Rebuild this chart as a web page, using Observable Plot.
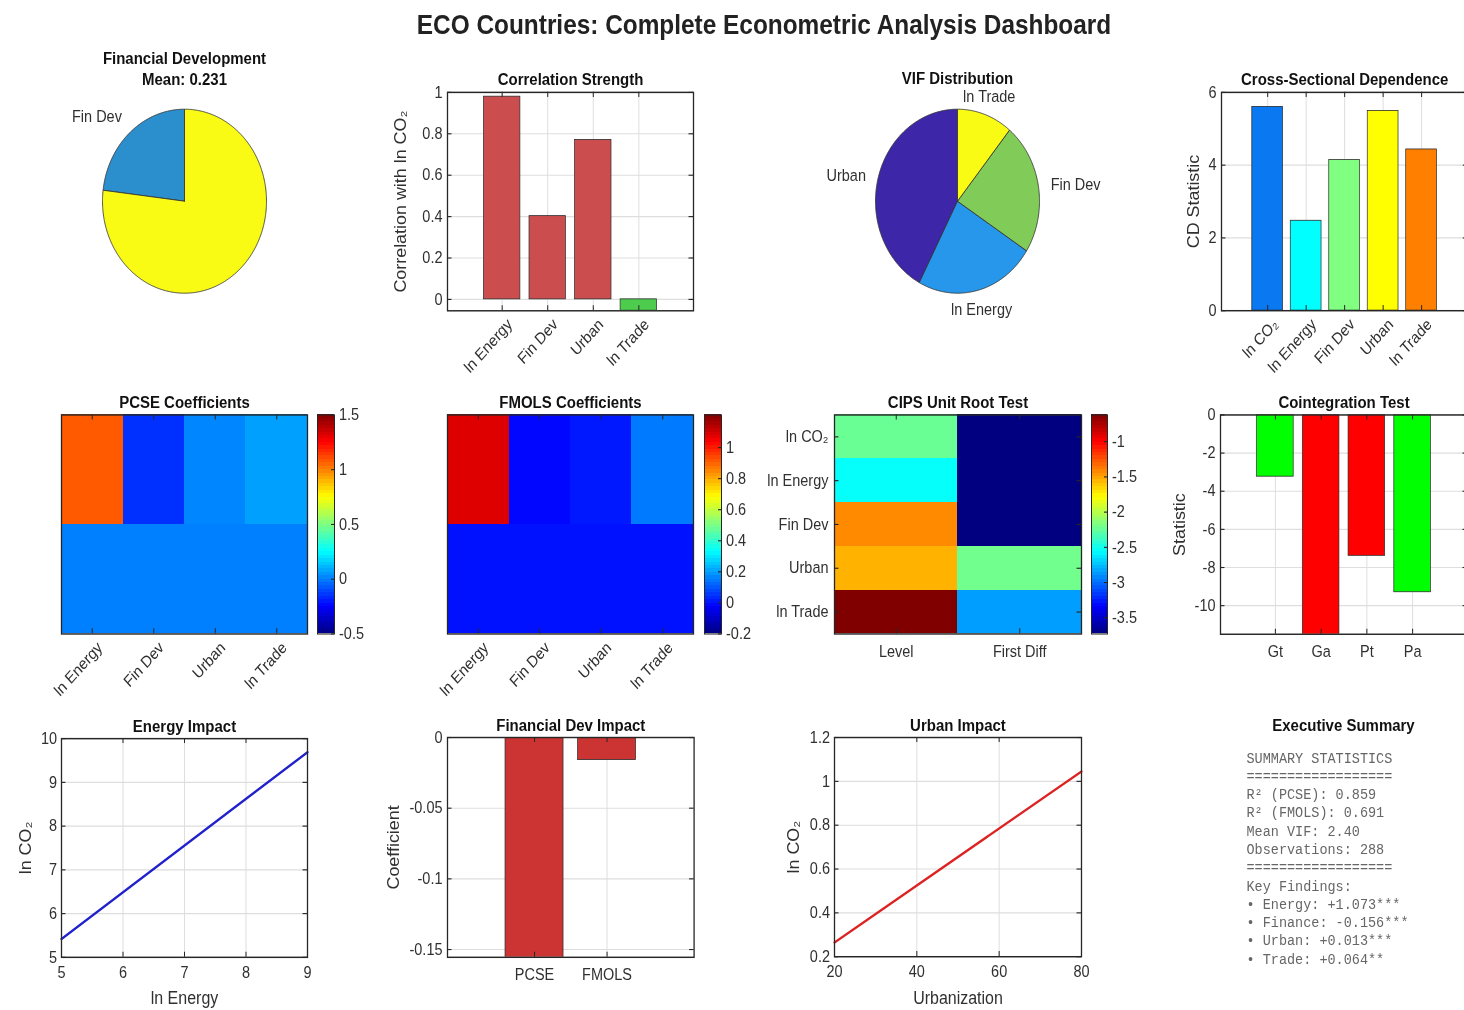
<!DOCTYPE html>
<html><head><meta charset="utf-8">
<script src="https://cdn.jsdelivr.net/npm/d3@7"></script>
<script src="https://cdn.jsdelivr.net/npm/@observablehq/plot@0.6"></script>
<style>
html,body{margin:0;padding:0;background:#fff;overflow:hidden;width:1464px;height:1010px;}
#dash{position:absolute;left:0;top:0;width:1464px;height:902px;transform:scaleY(1.12);transform-origin:0 0;font-family:"Liberation Sans",Arial,sans-serif;}
#main-title{position:absolute;left:0;top:10.2px;width:1528px;text-align:center;font-weight:bold;font-size:24.4px;line-height:1;color:#222;}
</style></head>
<body><div id="dash"><div id="main-title">ECO Countries: Complete Econometric Analysis Dashboard</div></div>
<script>
// ---------------- DATA ----------------
const finDevMean = 0.231;
const finPieCats = ["Fin Dev", ""];
const finPieVals = [0.231, 0.769];
const finPieColors = ["#2c8fcd", "#f9fb15"];

const corrCats = ["ln Energy", "Fin Dev", "Urban", "ln Trade"];
const corrVals = [0.979, 0.402, 0.770, -0.055];

const vifCats = ["Urban", "ln Energy", "Fin Dev", "ln Trade"];
const vifVals = [4.06, 2.27, 2.22, 1.05];
const vifColors = ["#3e26a8", "#2797eb", "#81cc59", "#f9fb15"];

const cdCats = ["ln CO₂", "ln Energy", "Fin Dev", "Urban", "ln Trade"];
const cdVals = [5.60, 2.47, 4.14, 5.49, 4.43];
const cdColors = ["#0a78f0", "#00ffff", "#80ff80", "#ffff00", "#ff8000"];

const coefCats = ["ln Energy", "Fin Dev", "Urban", "ln Trade"];
const coefRows = ["Coefficient", "p-value"];
const pcseCoef = [1.073, -0.156, 0.013, 0.064];
const pcseP = [0.000, 0.000, 0.000, 0.000];
const pcseClim = [-0.5, 1.5];
const pcseCbTicks = [-0.5, 0, 0.5, 1, 1.5];

const fmolsCoef = [1.08, -0.016, 0.010, 0.145];
const fmolsP = [0.000, 0.000, 0.000, 0.000];
const fmolsClim = [-0.2, 1.21];
const fmolsCbTicks = [-0.2, 0, 0.2, 0.4, 0.6, 0.8, 1];

const cipsVars = ["ln CO₂", "ln Energy", "Fin Dev", "Urban", "ln Trade"];
const cipsCols = ["Level", "First Diff"];
const cipsLevel = [-2.24, -2.55, -1.43, -1.55, -0.62];
const cipsDiff = [-3.73, -3.73, -3.73, -2.22, -2.86];
const cipsClim = [-3.73, -0.62];
const cipsCbTicks = [-3.5, -3, -2.5, -2, -1.5, -1];

const ctCats = ["Gt", "Ga", "Pt", "Pa"];
const ctVals = [-3.24, -12.4, -7.39, -9.30];
const ctColors = ["#00ff00", "#ff0000", "#ff0000", "#00ff00"];

const energyX = [5, 9];
const energyY = [5.42, 9.69];

const fdCats = ["PCSE", "FMOLS"];
const fdVals = [-0.156, -0.016];

const urbanX = [20, 80];
const urbanY = [0.265, 1.045];

const summaryLines = [
  "SUMMARY STATISTICS",
  "==================",
  "R² (PCSE): 0.859",
  "R² (FMOLS): 0.691",
  "Mean VIF: 2.40",
  "Observations: 288",
  "==================",
  "Key Findings:",
  "• Energy: +1.073***",
  "• Finance: -0.156***",
  "• Urban: +0.013***",
  "• Trade: +0.064**"
];

// ---------------- HELPERS ----------------
const S = 1.12;
const FONT = "Liberation Sans, Arial, Helvetica, sans-serif";
const AX = "#262626";
const GRID = "#dedede";
const TXT = "#303030";
const TITLE = "#111111";
const dash = document.getElementById("dash");
const fmt = d => String(d);

function jetScale(lo, hi) {
  const r = hi - lo;
  return {type: "linear", domain: [0, 0.125, 0.375, 0.625, 0.875, 1].map(t => lo + t * r),
    range: ["#000080", "#0000ff", "#00ffff", "#ffff00", "#ff0000", "#800000"], interpolate: "rgb"};
}

function makeAxes(box, margins, opts) {
  const [x0, y0, x1, y1] = box;
  const [mt, mr, mb, ml] = margins;
  const W = x1 - x0, H = (y1 - y0) / S;
  const {marks, ...rest} = opts;
  const svg = Plot.plot({
    ...rest,
    marks: marks(W, H),
    width: W + ml + mr, height: H + mt + mb,
    marginTop: mt, marginRight: mr, marginBottom: mb, marginLeft: ml,
    style: {fontFamily: FONT, fontSize: "14.5px", color: TXT, background: "transparent", overflow: "visible"}
  });
  svg.style.position = "absolute";
  svg.style.left = (x0 - ml) + "px";
  svg.style.top = (y0 / S - mt) + "px";
  svg.style.maxWidth = "none";
  dash.appendChild(svg);
  return svg;
}

function innerTicks(W, H, xt, yt, len = 4.5) {
  const m = [];
  if (xt) {
    m.push(Plot.tickX(xt, {x: d => d, insetTop: H - len, stroke: AX}));
    m.push(Plot.tickX(xt, {x: d => d, insetBottom: H - len, stroke: AX}));
  }
  if (yt) {
    m.push(Plot.tickY(yt, {y: d => d, insetRight: W - len, stroke: AX}));
    m.push(Plot.tickY(yt, {y: d => d, insetLeft: W - len, stroke: AX}));
  }
  return m;
}

function titleMark(t, dy) {
  return Plot.text([t], {text: d => d, frameAnchor: "top", dy, lineAnchor: "middle", fontWeight: "bold", fontSize: 15, fill: TITLE});
}
function yLabelMark(t, off) {
  return Plot.text([t], {text: d => d, frameAnchor: "left", dx: -off, rotate: -90, textAnchor: "middle", lineAnchor: "middle", fontSize: 16, fill: TXT});
}
function xLabelMark(t, off) {
  return Plot.text([t], {text: d => d, frameAnchor: "bottom", dy: off, lineAnchor: "middle", fontSize: 16, fill: TXT});
}
function xTickLabels(pos, labels, rotate, dy) {
  const d = pos.map((p, i) => ({p, t: labels[i]}));
  return rotate
    ? Plot.text(d, {x: "p", text: "t", frameAnchor: "bottom", dx: 11, dy: 13, rotate: -45, textAnchor: "end", lineAnchor: "bottom", fontSize: 14.5, fill: TXT})
    : Plot.text(d, {x: "p", text: "t", frameAnchor: "bottom", dy, lineAnchor: "middle", fontSize: 14.5, fill: TXT});
}
function yTickLabels(yt, dx = -5, labels = null) {
  return Plot.text(yt, {y: d => d, text: labels ? ((d, i) => labels[i]) : fmt, frameAnchor: "left", dx, textAnchor: "end", lineAnchor: "middle", fontSize: 14.5, fill: TXT});
}

function barPanel({box, xdom, ydom, yticks, cats, vals, fills, title, ylabel, ylabOff, rotate}) {
  const data = cats.map((c, i) => ({c, p: i + 1, v: vals[i], f: fills[i]}));
  const pos = data.map(d => d.p);
  makeAxes(box, [40, 30, 90, 80], {
    x: {domain: xdom, axis: null}, y: {domain: ydom, axis: null}, color: {type: "identity"},
    marks: (W, H) => [
      Plot.gridX(pos, {x: d => d, stroke: GRID, strokeOpacity: 1}),
      Plot.gridY(yticks, {y: d => d, stroke: GRID, strokeOpacity: 1}),
      Plot.rect(data, {x1: d => d.p - 0.4, x2: d => d.p + 0.4, y1: 0, y2: "v", fill: "f", stroke: "#2a2a2a", strokeWidth: 0.7, clip: true}),
      ...innerTicks(W, H, pos, yticks),
      Plot.frame({stroke: AX, strokeWidth: 1.3}),
      yTickLabels(yticks),
      xTickLabels(pos, cats, rotate, 16),
      titleMark(title, -11),
      yLabelMark(ylabel, ylabOff)
    ]
  });
}

function linePanel({box, xdom, ydom, xticks, yticks, xs, ys, color, title, xlabel, ylabel, ylabOff}) {
  const pts = xs.map((x, i) => ({x, y: ys[i]}));
  makeAxes(box, [40, 30, 60, 80], {
    x: {domain: xdom, axis: null}, y: {domain: ydom, axis: null},
    marks: (W, H) => [
      Plot.gridX(xticks, {x: d => d, stroke: GRID, strokeOpacity: 1}),
      Plot.gridY(yticks, {y: d => d, stroke: GRID, strokeOpacity: 1}),
      Plot.line(pts, {x: "x", y: "y", stroke: color, strokeWidth: 2.2}),
      ...innerTicks(W, H, xticks, yticks),
      Plot.frame({stroke: AX, strokeWidth: 1.3}),
      yTickLabels(yticks, -4.5),
      xTickLabels(xticks, xticks.map(fmt), false, 13.5),
      titleMark(title, -11),
      yLabelMark(ylabel, ylabOff),
      xLabelMark(xlabel, 36.9)
    ]
  });
}

function heatPanel({box, cols, rows, vals, clim, title, rotate, showY, cbox, cticks}) {
  const cells = [];
  vals.forEach((row, ri) => row.forEach((v, ci) => cells.push({ri: ri + 1, ci: ci + 1, v})));
  const xp = cols.map((c, i) => i + 1), yp = rows.map((r, i) => i + 1);
  makeAxes(box, [40, 20, 90, 90], {
    x: {domain: [0.5, cols.length + 0.5], axis: null},
    y: {domain: [0.5, rows.length + 0.5], reverse: true, axis: null},
    color: jetScale(clim[0], clim[1]),
    marks: (W, H) => [
      Plot.rect(cells, {x1: d => d.ci - 0.5, x2: d => d.ci + 0.5, y1: d => d.ri - 0.5, y2: d => d.ri + 0.5, fill: "v", shapeRendering: "crispEdges"}),
      ...innerTicks(W, H, xp, showY ? yp : null),
      Plot.frame({stroke: AX, strokeWidth: 1.3}),
      xTickLabels(xp, cols, rotate, 16),
      showY ? yTickLabels(yp, -6, rows) : null,
      titleMark(title, -10.7)
    ]
  });
  const [lo, hi] = clim;
  const steps = d3.range(64).map(i => ({a: lo + i * (hi - lo) / 64, b: lo + (i + 1) * (hi - lo) / 64}));
  makeAxes(cbox, [10, 40, 10, 5], {
    x: {domain: [0, 1], axis: null}, y: {domain: clim, axis: null}, color: jetScale(lo, hi),
    marks: (W, H) => [
      Plot.rect(steps, {x1: 0, x2: 1, y1: "a", y2: "b", fill: d => (d.a + d.b) / 2, shapeRendering: "crispEdges"}),
      Plot.tickY(cticks, {y: d => d, insetLeft: W - 3, stroke: AX}),
      Plot.frame({stroke: AX, strokeWidth: 1}),
      Plot.text(cticks, {y: d => d, text: fmt, frameAnchor: "right", dx: 4.5, textAnchor: "start", lineAnchor: "middle", fontSize: 14.5, fill: TXT})
    ]
  });
}

function piePanel({box, cats, vals, colors, titles}) {
  const tot = d3.sum(vals);
  const slices = [];
  let a0 = 0;
  vals.forEach((v, i) => {
    const a1 = a0 + v / tot * 2 * Math.PI;
    const n = Math.max(2, Math.ceil((a1 - a0) / 0.01));
    const pts = [{x: 0, y: 0}];
    for (let k = 0; k <= n; k++) { const a = a0 + (a1 - a0) * k / n; pts.push({x: -Math.sin(a), y: Math.cos(a)}); }
    pts.push({x: 0, y: 0});
    const am = (a0 + a1) / 2;
    slices.push({pts, color: colors[i], label: cats[i], lx: -Math.sin(am) * 1.15, ly: Math.cos(am) * 1.15});
    a0 = a1;
  });
  makeAxes(box, [60, 80, 40, 80], {
    x: {domain: [-1, 1], axis: null}, y: {domain: [-1, 1], axis: null},
    marks: () => [
      ...slices.map(s => Plot.line(s.pts, {x: "x", y: "y", fill: s.color, stroke: "#333", strokeWidth: 0.8, curve: "linear"})),
      ...slices.filter(s => s.label).map(s => Plot.text([s], {
        x: "lx", y: "ly", text: "label", fontSize: 14.5, fill: TXT,
        textAnchor: s.lx > 0.5 ? "start" : s.lx < -0.5 ? "end" : "middle",
        lineAnchor: s.ly > 0.5 ? "bottom" : s.ly < -0.5 ? "top" : "middle"
      })),
      ...titles.map(([t, dy]) => titleMark(t, dy))
    ]
  });
}

// ---------------- PANELS ----------------
// Row 1
piePanel({box: [102, 109, 266, 293], cats: finPieCats, vals: finPieVals, colors: finPieColors,
  titles: [["Financial Development", -45.5], [`Mean: ${finDevMean.toFixed(3)}`, -26.8]]});

barPanel({box: [447.3, 92.3, 693.3, 310.7], xdom: [-0.2, 5.2], ydom: [-0.055, 1], yticks: [0, 0.2, 0.4, 0.6, 0.8, 1],
  cats: corrCats, vals: corrVals, fills: corrVals.map(v => v >= 0 ? "#cc4d4d" : "#4dcc4d"),
  title: "Correlation Strength", ylabel: "Correlation with ln CO₂", ylabOff: 47, rotate: true});

piePanel({box: [875, 109, 1039, 293], cats: vifCats, vals: vifVals, colors: vifColors,
  titles: [["VIF Distribution", -27.5]]});

barPanel({box: [1220.7, 91.7, 1467, 310], xdom: [-0.2, 6.2], ydom: [0, 6], yticks: [0, 2, 4, 6],
  cats: cdCats, vals: cdVals, fills: cdColors,
  title: "Cross-Sectional Dependence", ylabel: "CD Statistic", ylabOff: 28, rotate: true});

// Row 2
heatPanel({box: [61, 414, 307, 633], cols: coefCats, rows: coefRows, vals: [pcseCoef, pcseP], clim: pcseClim,
  title: "PCSE Coefficients", rotate: true, showY: false, cbox: [317, 414, 334, 633], cticks: pcseCbTicks});

heatPanel({box: [447, 414, 693, 633], cols: coefCats, rows: coefRows, vals: [fmolsCoef, fmolsP], clim: fmolsClim,
  title: "FMOLS Coefficients", rotate: true, showY: false, cbox: [704, 414, 721, 633], cticks: fmolsCbTicks});

heatPanel({box: [834, 414, 1081, 633], cols: cipsCols, rows: cipsVars, vals: cipsVars.map((v, i) => [cipsLevel[i], cipsDiff[i]]),
  clim: cipsClim, title: "CIPS Unit Root Test", rotate: false, showY: true, cbox: [1091, 414, 1107, 633], cticks: cipsCbTicks});

barPanel({box: [1220, 414, 1467, 633.3], xdom: [-0.2, 5.2], ydom: [-11.5, 0], yticks: [-10, -8, -6, -4, -2, 0],
  cats: ctCats, vals: ctVals, fills: ctColors,
  title: "Cointegration Test", ylabel: "Statistic", ylabOff: 41, rotate: false});

// Row 3
linePanel({box: [61, 738, 307, 956.7], xdom: [5, 9], ydom: [5, 10], xticks: [5, 6, 7, 8, 9], yticks: [5, 6, 7, 8, 9, 10],
  xs: energyX, ys: energyY, color: "#2020cc", title: "Energy Impact", xlabel: "ln Energy", ylabel: "ln CO₂", ylabOff: 36});

barPanel({box: [446.7, 737.5, 693.3, 957.3], xdom: [-0.2, 3.2], ydom: [-0.1555, 0], yticks: [-0.15, -0.1, -0.05, 0],
  cats: fdCats, vals: fdVals, fills: fdVals.map(() => "#cc3333"),
  title: "Financial Dev Impact", ylabel: "Coefficient", ylabOff: 54, rotate: false});

linePanel({box: [834, 737.5, 1081, 956.7], xdom: [20, 80], ydom: [0.2, 1.2], xticks: [20, 40, 60, 80], yticks: [0.2, 0.4, 0.6, 0.8, 1, 1.2],
  xs: urbanX, ys: urbanY, color: "#dd2222", title: "Urban Impact", xlabel: "Urbanization", ylabel: "ln CO₂", ylabOff: 41});

// Executive summary
makeAxes([1246, 747.9, 1440, 967.1], [40, 20, 10, 10], {
  x: {domain: [0, 1], axis: null}, y: {domain: [-0.5, summaryLines.length - 0.5], reverse: true, axis: null},
  marks: () => [
    Plot.text(summaryLines, {x: 0, y: (d, i) => i, text: d => d, textAnchor: "start", lineAnchor: "middle",
      fontFamily: "Liberation Mono, DejaVu Sans Mono, monospace", fontSize: 13.5, fill: "#666"}),
    titleMark("Executive Summary", -20.5)
  ]
});
</script></body></html>
